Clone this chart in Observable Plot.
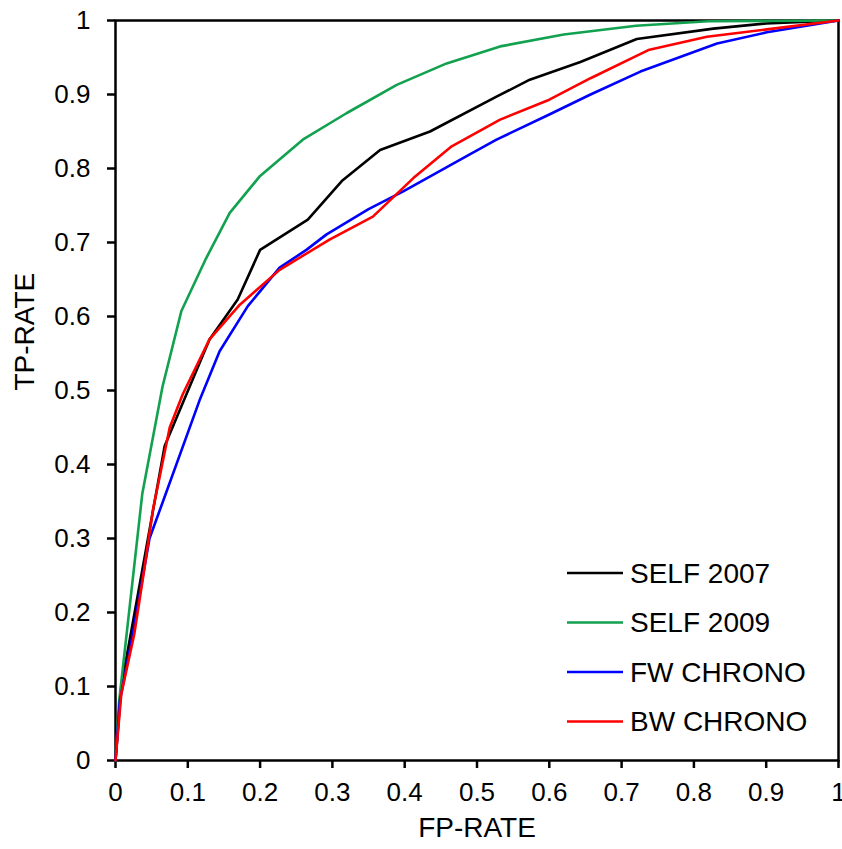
<!DOCTYPE html>
<html><head><meta charset="utf-8">
<script src="https://cdn.jsdelivr.net/npm/d3@7"></script>
<script src="https://cdn.jsdelivr.net/npm/@observablehq/plot@0.6"></script>
<style>
body{margin:0;background:#fff}
svg{font-family:"Liberation Sans",Arial,sans-serif}
</style>
</head><body><div id="chart"></div>
<script>
const seriesNames = ["SELF 2007", "SELF 2009", "FW CHRONO", "BW CHRONO"];
const seriesColors = ["#000000", "#12a14f", "#0000ff", "#ff0000"];

const self2007 = [[0,0],[0.008,0.1],[0.068,0.425],[0.13,0.569],[0.169,0.623],[0.2,0.69],[0.266,0.731],[0.313,0.783],[0.366,0.825],[0.435,0.85],[0.527,0.897],[0.573,0.92],[0.643,0.944],[0.721,0.975],[0.827,0.989],[0.9,0.996],[1,1]];
const self2009 = [[0,0],[0.005,0.08],[0.037,0.36],[0.065,0.505],[0.091,0.607],[0.125,0.678],[0.158,0.74],[0.2,0.79],[0.259,0.839],[0.32,0.875],[0.389,0.913],[0.458,0.942],[0.532,0.965],[0.62,0.981],[0.72,0.993],[0.82,0.999],[1,1]];
const fwChrono = [[0,0],[0.006,0.08],[0.024,0.171],[0.047,0.3],[0.066,0.351],[0.116,0.486],[0.144,0.553],[0.183,0.614],[0.227,0.666],[0.264,0.69],[0.292,0.711],[0.35,0.745],[0.398,0.769],[0.49,0.819],[0.527,0.839],[0.6,0.873],[0.657,0.9],[0.726,0.931],[0.832,0.969],[0.901,0.984],[1,1]];
const bwChrono = [[0,0],[0.008,0.09],[0.026,0.171],[0.038,0.247],[0.052,0.34],[0.075,0.45],[0.093,0.495],[0.13,0.569],[0.172,0.616],[0.227,0.663],[0.296,0.704],[0.356,0.735],[0.412,0.787],[0.465,0.83],[0.532,0.866],[0.6,0.893],[0.657,0.922],[0.737,0.96],[0.818,0.978],[0.901,0.988],[1,1]];

const tickValues = [0,0.1,0.2,0.3,0.4,0.5,0.6,0.7,0.8,0.9,1];
const tickLabels = ["0","0.1","0.2","0.3","0.4","0.5","0.6","0.7","0.8","0.9","1"];
const xTitle = "FP-RATE";
const yTitle = "TP-RATE";

const allSeries = [self2007, self2009, fwChrono, bwChrono];
const table = allSeries.flatMap((pts, i) => pts.map(([x, y]) => ({series: seriesNames[i], x, y})));
const fmt = d => tickLabels[tickValues.indexOf(d)];

const chart = Plot.plot({
  width: 842, height: 849,
  marginLeft: 115, marginRight: 4, marginTop: 20, marginBottom: 89,
  x: {domain: [0, 1]},
  y: {domain: [0, 1]},
  color: {domain: seriesNames, range: seriesColors},
  style: {fontFamily: '"Liberation Sans", Arial, sans-serif', fontSize: "26px", color: "#000", background: "#fff"},
  marks: [
    Plot.axisX(tickValues, {tickSize: 8, tickPadding: 14, tickFormat: fmt, fontSize: 26, strokeWidth: 2.5, label: null}),
    Plot.axisY(tickValues, {tickSize: 8, tickPadding: 17, tickFormat: fmt, fontSize: 26, strokeWidth: 2.5, label: null}),
    Plot.frame({stroke: "#000", strokeWidth: 2.5}),
    Plot.line(table, {x: "x", y: "y", z: "series", stroke: "series", strokeWidth: 2.6, strokeLinejoin: "round"}),
    Plot.text([xTitle], {frameAnchor: "bottom", dy: 76, fontSize: 28, fill: "#000"}),
    Plot.text([yTitle], {frameAnchor: "left", dx: -90, rotate: -90, fontSize: 28, fill: "#000"})
  ]
});

const svg = d3.select(chart);
// enforce tick-label size
svg.selectAll("text").filter(function() { return tickLabels.includes(this.textContent); })
  .style("font-size", "26px");

// legend inside the plot, lower right
const lg = svg.append("g").attr("font-size", 28).attr("text-anchor", "start")
  .attr("font-family", '"Liberation Sans", Arial, sans-serif');
seriesNames.forEach((name, i) => {
  const y = 573 + i * 49.5;
  lg.append("line").attr("x1", 567).attr("x2", 623).attr("y1", y).attr("y2", y)
    .attr("stroke", seriesColors[i]).attr("stroke-width", 2.6);
  lg.append("text").attr("x", 630).attr("y", y).attr("dy", "0.35em").attr("fill", "#000").text(name);
});

document.getElementById("chart").appendChild(chart);
</script>
</body></html>
